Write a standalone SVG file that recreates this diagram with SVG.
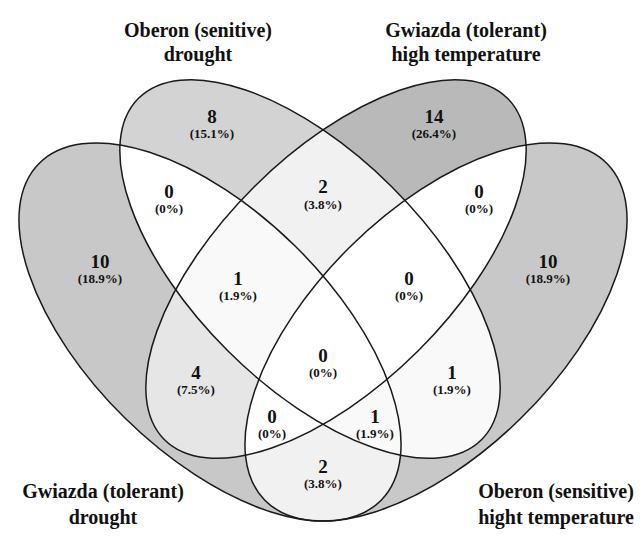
<svg xmlns="http://www.w3.org/2000/svg" xmlns:xlink="http://www.w3.org/1999/xlink" width="644" height="539" viewBox="0 0 644 539">
<style>
.t{font-family:"Liberation Serif","Times New Roman",serif;font-weight:bold;text-anchor:middle;fill:#111}
.num{font-size:19px}
.pct{font-size:13px}
.title{font-size:20px}
.outline{fill:none;stroke:#1a1a1a;stroke-width:1.5}
</style>
<defs>
<ellipse id="eA" cx="210" cy="332" rx="240" ry="121" transform="rotate(44.5 210 332)"/>
<ellipse id="eB" cx="310" cy="269" rx="242" ry="116" transform="rotate(44.8 310 269)"/>
<ellipse id="eC" cx="336" cy="269" rx="242" ry="116" transform="rotate(-44.8 336 269)"/>
<ellipse id="eD" cx="436" cy="332" rx="240" ry="121" transform="rotate(-44.5 436 332)"/>
<clipPath id="cA"><use href="#eA"/></clipPath>
<clipPath id="cB"><use href="#eB"/></clipPath>
<clipPath id="cC"><use href="#eC"/></clipPath>
<clipPath id="cD"><use href="#eD"/></clipPath>
</defs>
<rect width="644" height="539" fill="#fff"/>
<g id="regions">
<use href="#eA" fill="#c8c8c8"/>
<use href="#eD" fill="#c8c8c8"/>
<use href="#eB" fill="#d3d3d3"/>
<use href="#eC" fill="#b9b9b9"/>
<use href="#eB" clip-path="url(#cA)" fill="#ffffff"/>
<use href="#eC" clip-path="url(#cA)" fill="#e6e6e6"/>
<use href="#eD" clip-path="url(#cA)" fill="#f1f1f1"/>
<use href="#eC" clip-path="url(#cB)" fill="#f1f1f1"/>
<use href="#eD" clip-path="url(#cB)" fill="#f9f9f9"/>
<use href="#eD" clip-path="url(#cC)" fill="#ffffff"/>
<g clip-path="url(#cA)"><use href="#eC" clip-path="url(#cB)" fill="#f9f9f9"/></g>
<g clip-path="url(#cA)"><use href="#eD" clip-path="url(#cB)" fill="#f9f9f9"/></g>
<g clip-path="url(#cA)"><use href="#eD" clip-path="url(#cC)" fill="#ffffff"/></g>
<g clip-path="url(#cB)"><use href="#eD" clip-path="url(#cC)" fill="#ffffff"/></g>
<g clip-path="url(#cA)"><g clip-path="url(#cB)"><use href="#eD" clip-path="url(#cC)" fill="#ffffff"/></g></g>
</g>
<g id="set-A"><use href="#eA" class="outline"/><text class="t title" x="103" y="498">Gwiazda (tolerant)</text><text class="t title" x="103" y="524">drought</text></g>
<g id="set-B"><use href="#eB" class="outline"/><text class="t title" x="198" y="37">Oberon (senitive)</text><text class="t title" x="198" y="61">drought</text></g>
<g id="set-C"><use href="#eC" class="outline"/><text class="t title" x="466" y="37">Gwiazda (tolerant)</text><text class="t title" x="466" y="61">high temperature</text></g>
<g id="set-D"><use href="#eD" class="outline"/><text class="t title" x="556" y="498">Oberon (sensitive)</text><text class="t title" x="556" y="524">hight temperature</text></g>
<g id="labels">
<text class="t num" x="212" y="123">8</text><text class="t pct" x="212" y="138">(15.1%)</text>
<text class="t num" x="434" y="123">14</text><text class="t pct" x="434" y="138">(26.4%)</text>
<text class="t num" x="169" y="198">0</text><text class="t pct" x="169" y="213">(0%)</text>
<text class="t num" x="323" y="193">2</text><text class="t pct" x="323" y="209">(3.8%)</text>
<text class="t num" x="479" y="198">0</text><text class="t pct" x="479" y="213">(0%)</text>
<text class="t num" x="100" y="268">10</text><text class="t pct" x="100" y="283">(18.9%)</text>
<text class="t num" x="548" y="268">10</text><text class="t pct" x="548" y="283">(18.9%)</text>
<text class="t num" x="238" y="285">1</text><text class="t pct" x="238" y="300">(1.9%)</text>
<text class="t num" x="409" y="285">0</text><text class="t pct" x="409" y="300">(0%)</text>
<text class="t num" x="323" y="362">0</text><text class="t pct" x="323" y="377">(0%)</text>
<text class="t num" x="196" y="379">4</text><text class="t pct" x="196" y="394">(7.5%)</text>
<text class="t num" x="452" y="379">1</text><text class="t pct" x="452" y="394">(1.9%)</text>
<text class="t num" x="272" y="423">0</text><text class="t pct" x="272" y="438">(0%)</text>
<text class="t num" x="375" y="423">1</text><text class="t pct" x="375" y="438">(1.9%)</text>
<text class="t num" x="323" y="473">2</text><text class="t pct" x="323" y="488">(3.8%)</text>
</g>
</svg>
